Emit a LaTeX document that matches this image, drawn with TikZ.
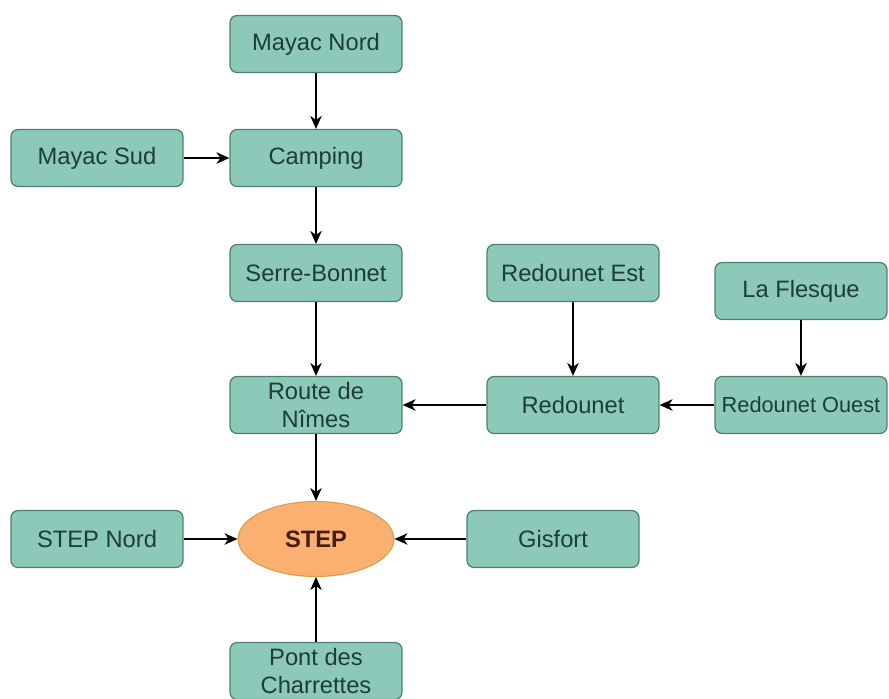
\documentclass[tikz,border=0pt]{standalone}
\usepackage{fontspec}
\setmainfont{Liberation Sans}
\usepackage{xcolor}
\usetikzlibrary{arrows.meta,shapes.geometric}
\definecolor{tealfill}{RGB}{140,201,184}
\definecolor{tealdraw}{RGB}{78,128,114}
\definecolor{tealtext}{RGB}{28,62,52}
\definecolor{stepfill}{RGB}{250,176,112}
\definecolor{stepdraw}{RGB}{214,158,70}
\definecolor{steptext}{RGB}{72,26,16}

\tikzset{
  station/.style={rectangle, rounded corners=4pt, draw=tealdraw, fill=tealfill, line width=0.7pt,
    minimum width=3.44cm, minimum height=1.14cm, text=tealtext, align=center,
    font=\fontsize{13.5}{16}\selectfont, inner sep=1pt},
  plant/.style={ellipse, draw=stepdraw, fill=stepfill, line width=0.6pt, inner sep=0pt,
    minimum width=3.12cm, minimum height=1.5cm, text=steptext, font=\fontsize{13.5}{16}\selectfont\bfseries},
  flow/.style={-{Stealth[length=0.26cm,width=0.23cm,inset=0.08cm]}, line width=0.9pt, black}
}

\begin{document}
\begin{tikzpicture}[x=0.02cm, y=-0.02cm]
            \useasboundingbox (0,0) rectangle (889,698);

            % Upstream branch
            \node[station] (mnord) at (316,44) {Mayac Nord};
            \node[station] (msud) at (97,158) {Mayac Sud};
            \node[station] (camping) at (316,158) {Camping};
            \node[station] (serre) at (316,273) {Serre-Bonnet};

            % Redounet branch
            \node[station] (rest) at (573,273) {Redounet Est};
            \node[station] (flesque) at (801,291) {La Flesque};
            \node[station] (route) at (316,405) {Route de\\Nîmes};
            \node[station] (redounet) at (573,405) {Redounet};
            \node[station, font=\fontsize{12.4}{16}\selectfont] (rouest) at (801,405) {Redounet Ouest};

            % Treatment plant
            \node[station] (stepnord) at (97,539) {STEP Nord};
            \node[plant] (step) at (316,539) {STEP};
            \node[station] (gisfort) at (553,539) {Gisfort};
            \node[station] (pont) at (316,671) {Pont des\\Charrettes};

            % Connections
            \draw[flow] (mnord) -- (camping);
            \draw[flow] (msud) -- (camping);
            \draw[flow] (camping) -- (serre);
            \draw[flow] (serre) -- (route);
            \draw[flow] (rest) -- (redounet);
            \draw[flow] (flesque) -- (rouest);
            \draw[flow] (rouest) -- (redounet);
            \draw[flow] (redounet) -- (route);
            \draw[flow] (route) -- (step);
            \draw[flow] (stepnord) -- (step);
            \draw[flow] (gisfort) -- (step);
            \draw[flow] (pont) -- (step);
        \end{tikzpicture}
\end{document}
